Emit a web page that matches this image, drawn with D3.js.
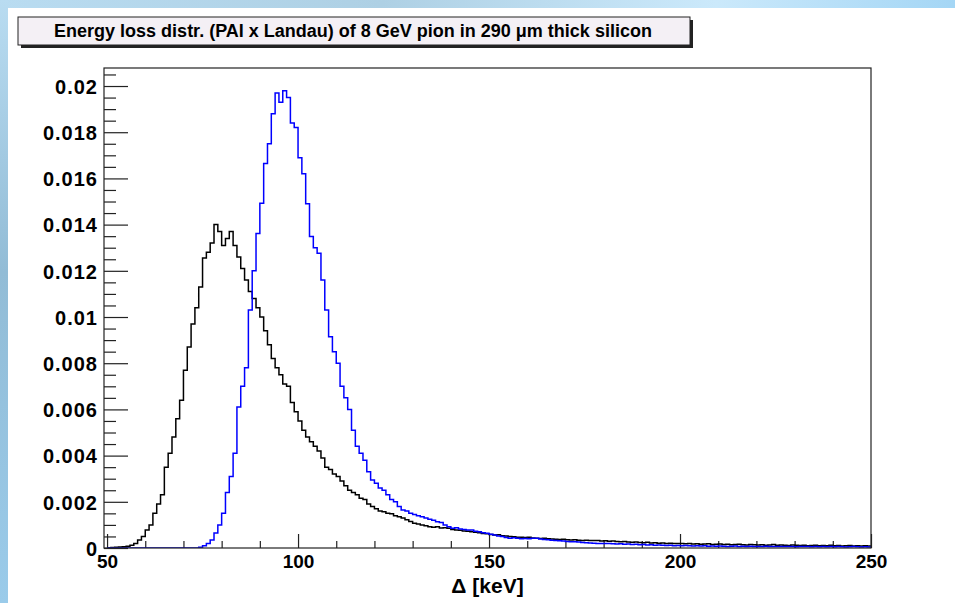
<!DOCTYPE html>
<html>
<head>
<meta charset="utf-8">
<script src="https://cdn.jsdelivr.net/npm/d3@7/dist/d3.min.js"></script>
<style>
    body { margin: 0; background: #ffffff; }
    svg text { font-family: "Liberation Sans", Arial, sans-serif; font-weight: bold; fill: #000; }
</style>
</head>
<body>
<script>
// everything wrapped so nothing leaks to global scope
(function(){
    // histogram bins: 1 keV wide, lower edges 50 .. 249
    var binStart = 50,
        binWidth = 1;

    // PAI x Landau, black histogram (one value per bin)
    var blackValues = [
        0,0.00002,0.00003,0.00004,0.00005,0.00008,0.00012,0.0002,0.00035,
        0.0005,0.00078,0.001,0.0015,0.0019,0.0023,0.0035,0.0041,0.0048,0.0056,
        0.0064,0.0077,0.0087,0.0097,0.0104,0.0113,0.01255,0.0128,0.0132,0.014,
        0.0137,0.0131,0.0134,0.0137,0.0131,0.0126,0.0121,0.0116,0.0111,0.0108,
        0.0104,0.01,0.0094,0.0088,0.0082,0.0078,0.0075,0.0071,0.007,0.0063,
        0.0059,0.0055,0.0051,0.0048,0.0046,0.0044,0.0042,0.0039,0.0035,0.0034,
        0.0032,0.0031,0.0029,0.0027,0.0025,0.0024,0.0023,0.00215,0.0021,0.0019,
        0.0018,0.0017,0.0016,0.00157,0.0015,0.00148,0.0014,0.00135,0.0013,0.00122,
        0.00115,0.00107,0.00104,0.001,0.00096,0.00092,0.0009,0.00092,0.00087,0.00088,
        0.00085,0.0008,0.00078,0.00077,0.00074,0.00072,0.0007,0.00068,0.00066,0.00063,
        0.00062,0.00058,0.00056,0.00057,0.00053,0.00052,0.0005,0.00049,0.00047,0.00046,
        0.00045,0.00046,0.00043,0.00042,0.00041,0.00042,0.0004,0.00039,0.00038,0.00037,
        0.00038,0.00036,0.00035,0.00036,0.00034,0.00033,0.00034,0.00032,0.00033,0.00032,
        0.0003,0.00031,0.00029,0.0003,0.00028,0.00027,0.00028,0.00026,0.00025,0.00026,
        0.00024,0.00023,0.00025,0.00022,0.00023,0.00021,0.00022,0.0002,0.00021,0.00019,
        0.0002,0.00019,0.00018,0.0002,0.00017,0.00018,0.00016,0.00017,0.00018,0.00015,
        0.00016,0.00017,0.00015,0.00016,0.00014,0.00015,0.00016,0.00014,0.00013,0.00015,
        0.00014,0.00013,0.00014,0.00012,0.00013,0.00015,0.00012,0.00013,0.00012,0.00011,
        0.00013,0.00012,0.00011,0.00012,0.0001,0.00011,0.00012,0.0001,0.00011,0.0001,
        0.00012,0.0001,0.00011,0.00009,0.0001,0.00011,0.00009,0.0001,0.00009,0.0001,
        0.00009
    ];

    // blue histogram
    var blueValues = [
        0,0,0,0,0,0,0,0,0,
        0,0,0,0,0,0,0,0,0,0,
        0,0,0,0,0,0.00003,0.0001,0.0002,0.00035,0.00065,
        0.001,0.0015,0.0024,0.0031,0.0041,0.0061,0.007,0.0078,0.0103,0.012,
        0.01362,0.01492,0.01665,0.0175,0.0188,0.0197,0.0193,0.0198,0.0195,0.0184,
        0.0182,0.0169,0.0162,0.0149,0.01348,0.013,0.01276,0.0116,0.0103,0.00915,
        0.0085,0.008,0.007,0.0065,0.006,0.0051,0.0044,0.0041,0.0038,0.0033,
        0.00294,0.0028,0.0026,0.0025,0.0023,0.0021,0.002,0.0018,0.00165,0.0016,
        0.0015,0.00145,0.0014,0.00135,0.0013,0.00125,0.0012,0.00114,0.0011,0.001,
        0.00092,0.00085,0.00088,0.00082,0.0008,0.00078,0.00078,0.00072,0.0007,0.00066,
        0.00064,0.0006,0.00056,0.00052,0.0005,0.00045,0.00042,0.00044,0.00042,0.0004,
        0.00041,0.0004,0.00042,0.00042,0.00039,0.00037,0.00036,0.00034,0.00032,0.00031,
        0.0003,0.00028,0.00027,0.00027,0.00026,0.00024,0.00023,0.00022,0.00021,0.0002,
        0.0002,0.00019,0.0002,0.00018,0.00017,0.00018,0.00016,0.00017,0.00015,0.00016,
        0.00014,0.00015,0.00013,0.00014,0.00012,0.00013,0.00012,0.00011,0.00012,0.0001,
        0.00011,0.0001,0.00011,0.0001,0.00009,0.0001,0.00009,0.0001,0.00008,0.00009,
        0.00008,0.00009,0.00008,0.00007,0.00008,0.00009,0.00007,0.00008,0.00007,0.00008,
        0.00007,0.00006,0.00007,0.00008,0.00006,0.00007,0.00006,0.00007,0.00006,0.00007,
        0.00006,0.00005,0.00006,0.00007,0.00006,0.00005,0.00006,0.00005,0.00006,0.00005,
        0.00006,0.00005,0.00006,0.00005,0.00004,0.00005,0.00006,0.00005,0.00004,0.00005,
        0.00004
    ];

    // axis ticks
    var xMajorTicks = [50, 100, 150, 200, 250],
        xMinorTicks = [60, 70, 80, 90, 110, 120, 130, 140, 160, 170, 180, 190, 210, 220, 230, 240],
        yMajorTicks = [0, 0.002, 0.004, 0.006, 0.008, 0.01, 0.012, 0.014, 0.016, 0.018, 0.02],
        yTickLabels = ["0", "0.002", "0.004", "0.006", "0.008", "0.01", "0.012", "0.014", "0.016", "0.018", "0.02"],
        yMinorTicks = [0.0005, 0.001, 0.0015, 0.0025, 0.003, 0.0035, 0.0045, 0.005, 0.0055,
                       0.0065, 0.007, 0.0075, 0.0085, 0.009, 0.0095, 0.0105, 0.011, 0.0115,
                       0.0125, 0.013, 0.0135, 0.0145, 0.015, 0.0155, 0.0165, 0.017, 0.0175,
                       0.0185, 0.019, 0.0195, 0.0205];

    var titleText = "Energy loss distr. (PAI x Landau) of 8 GeV pion in 290 \u03bcm thick silicon",
        xTitle = "\u0394 [keV]";

    window.onload = drawChart();

    function drawChart(){
        var width = 955,
            height = 603;

        // frame of the plot area
        var frame = {left: 104, top: 68, right: 871, bottom: 548};

        var svg = d3.select("body")
            .append("svg")
            .attr("width", width)
            .attr("height", height);

        var defs = svg.append("defs");

        // slide background: blue strip on the left and on top
        var leftGrad = defs.append("linearGradient")
            .attr("id", "leftGrad")
            .attr("x1", 0).attr("y1", 0).attr("x2", 0).attr("y2", 1);
        leftGrad.append("stop").attr("offset", "0%").attr("stop-color", "#b9dcf1");
        leftGrad.append("stop").attr("offset", "45%").attr("stop-color", "#92bcd6");
        leftGrad.append("stop").attr("offset", "100%").attr("stop-color", "#9acbea");

        var topGrad = defs.append("linearGradient")
            .attr("id", "topGrad")
            .attr("x1", 0).attr("y1", 0).attr("x2", 1).attr("y2", 0);
        topGrad.append("stop").attr("offset", "0%").attr("stop-color", "#b9dcf1");
        topGrad.append("stop").attr("offset", "40%").attr("stop-color", "#aed0e4");
        topGrad.append("stop").attr("offset", "75%").attr("stop-color", "#cbe9fb");
        topGrad.append("stop").attr("offset", "100%").attr("stop-color", "#a4d6f5");

        svg.append("rect")
            .attr("x", 0).attr("y", 0)
            .attr("width", width).attr("height", 8)
            .attr("fill", "url(#topGrad)");
        svg.append("rect")
            .attr("x", 0).attr("y", 0)
            .attr("width", 8).attr("height", height)
            .attr("fill", "url(#leftGrad)");

        // title box with a drop shadow
        svg.append("rect")
            .attr("x", 21).attr("y", 20)
            .attr("width", 672).attr("height", 28)
            .attr("fill", "#222");
        svg.append("rect")
            .attr("x", 18).attr("y", 17)
            .attr("width", 672).attr("height", 28)
            .attr("fill", "#f4f0f5")
            .attr("stroke", "#222")
            .attr("stroke-width", 1);
        svg.append("text")
            .attr("x", 353).attr("y", 37)
            .attr("text-anchor", "middle")
            .style("font-size", "18px")
            .text(titleText);

        // scales
        var x = d3.scaleLinear()
            .domain([49.2, 250])
            .range([frame.left, frame.right]);

        var y = d3.scaleLinear()
            .domain([0, 0.02078])
            .range([frame.bottom, frame.top]);

        // y axis, ticks pointing into the frame
        var yMinor = d3.axisLeft(y)
            .tickValues(yMinorTicks)
            .tickSizeInner(-12)
            .tickSizeOuter(0)
            .tickFormat("");
        var yMajor = d3.axisLeft(y)
            .tickValues(yMajorTicks)
            .tickSizeInner(-24)
            .tickSizeOuter(0)
            .tickPadding(6)
            .tickFormat(function(d, i){ return yTickLabels[i]; });

        svg.append("g")
            .attr("transform", "translate(" + frame.left + ",0)")
            .call(yMinor);
        svg.append("g")
            .attr("class", "yaxis")
            .attr("transform", "translate(" + frame.left + ",0)")
            .call(yMajor);

        // x axis
        var xMinor = d3.axisBottom(x)
            .tickValues(xMinorTicks)
            .tickSizeInner(-7)
            .tickSizeOuter(0)
            .tickFormat("");
        var xMajor = d3.axisBottom(x)
            .tickValues(xMajorTicks)
            .tickSizeInner(-14)
            .tickSizeOuter(0)
            .tickPadding(7)
            .tickFormat(d3.format("d"));

        svg.append("g")
            .attr("transform", "translate(0," + frame.bottom + ")")
            .call(xMinor);
        svg.append("g")
            .attr("class", "xaxis")
            .attr("transform", "translate(0," + frame.bottom + ")")
            .call(xMajor);

        svg.selectAll(".domain").remove();
        svg.selectAll(".tick line").attr("stroke", "#222").attr("stroke-width", 1.2);
        svg.selectAll(".yaxis text")
            .style("font-size", "20px")
            .style("letter-spacing", "1px")
            .attr("dy", "0.36em");
        svg.selectAll(".xaxis text").style("font-size", "19px");

        svg.append("text")
            .attr("x", (frame.left + frame.right) / 2)
            .attr("y", 593)
            .attr("text-anchor", "middle")
            .style("font-size", "21px")
            .text(xTitle);

        // histogram outlines, drawn as steps
        defs.append("clipPath")
            .attr("id", "plotClip")
            .append("rect")
            .attr("x", frame.left).attr("y", frame.top)
            .attr("width", frame.right - frame.left)
            .attr("height", frame.bottom - frame.top);

        var step = d3.line()
            .x(function(d){ return x(d[0]); })
            .y(function(d){ return y(d[1]); })
            .curve(d3.curveStepAfter);

        function toPoints(values){
            var pts = values.map(function(v, i){
                return [binStart + i * binWidth, v];
            });
            // close the last bin at its upper edge
            pts.push([binStart + values.length * binWidth, values[values.length - 1]]);
            return pts;
        }

        var plot = svg.append("g").attr("clip-path", "url(#plotClip)");

        plot.append("path")
            .attr("d", step(toPoints(blackValues)))
            .attr("fill", "none")
            .attr("stroke", "#000")
            .attr("stroke-width", 1.5);

        plot.append("path")
            .attr("d", step(toPoints(blueValues)))
            .attr("fill", "none")
            .attr("stroke", "#0000ff")
            .attr("stroke-width", 1.5);

        // frame on top
        svg.append("rect")
            .attr("x", frame.left).attr("y", frame.top)
            .attr("width", frame.right - frame.left)
            .attr("height", frame.bottom - frame.top)
            .attr("fill", "none")
            .attr("stroke", "#222")
            .attr("stroke-width", 1.2);
    }
})();
</script>
</body>
</html>
